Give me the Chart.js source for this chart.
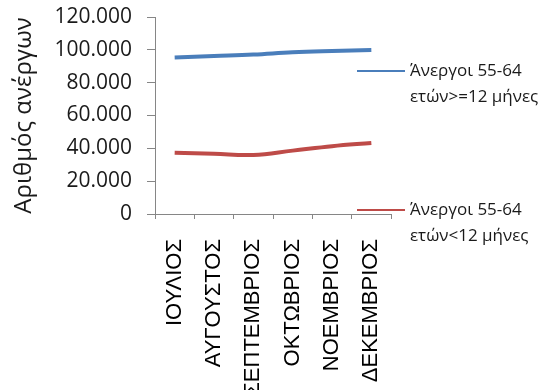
<!DOCTYPE html>
<html>
<head>
<meta charset="utf-8">
<script src="https://cdn.jsdelivr.net/npm/chart.js@4/dist/chart.umd.min.js"></script>
<style>
  html, body { margin: 0; padding: 0; background: #fff; }
</style>
</head>
<body>
<canvas id="chart" width="550" height="390"></canvas>
<script>
const months = ['ΙΟΥΛΙΟΣ', 'ΑΥΓΟΥΣΤΟΣ', 'ΣΕΠΤΕΜΒΡΙΟΣ', 'ΟΚΤΩΒΡΙΟΣ', 'ΝΟΕΜΒΡΙΟΣ', 'ΔΕΚΕΜΒΡΙΟΣ']
const longTerm = [95300, 96200, 97100, 98500, 99300, 99900]
const shortTerm = [37300, 36700, 36000, 38600, 41300, 43300]
const seriesNames = [['Άνεργοι 55-64', 'ετών>=12 μήνες'], ['Άνεργοι 55-64', 'ετών<12 μήνες']]
const yTitle = 'Αριθμός ανέργων'

const BLUE = '#4a7ebb'
const RED = '#be4b48'
const AXIS = '#868686'
const CALIBRI = "'Open Sans', 'Noto Sans', sans-serif"

function fmt(v) {
  return String(v).replace(/\B(?=(\d{3})+(?!\d))/g, '.')
}

// legend drawn by hand, Excel puts the two entries far apart on the right
const sideLegend = {
  id: 'sideLegend',
  afterDraw(chart) {
    const ctx = chart.ctx
    const spots = [71, 210]
    const colors = [BLUE, RED]
    ctx.save()
    ctx.font = '17px ' + CALIBRI
    ctx.textBaseline = 'middle'
    ctx.fillStyle = '#1a1a1a'
    seriesNames.forEach((lines, i) => {
      const y = spots[i]
      ctx.strokeStyle = colors[i]
      ctx.lineWidth = 2
      ctx.beginPath()
      ctx.moveTo(357, y)
      ctx.lineTo(405, y)
      ctx.stroke()
      lines.forEach((t, j) => ctx.fillText(t, 410, y + j * 26))
    })
    ctx.restore()
  }
}

new Chart(document.getElementById('chart'), {
  type: 'line',
  data: {
    labels: months,
    datasets: [{
      label: seriesNames[0].join(' '),
      data: longTerm,
      borderColor: BLUE,
      borderWidth: 4,
      tension: 0.4,
      pointRadius: 0,
      fill: false
    }, {
      label: seriesNames[1].join(' '),
      data: shortTerm,
      borderColor: RED,
      borderWidth: 4,
      tension: 0.4,
      pointRadius: 0,
      fill: false
    }]
  },
  options: {
    responsive: false,
    animation: false,
    layout: { padding: { top: 17, right: 159, bottom: 0, left: 0 } },
    plugins: {
      legend: { display: false },
      tooltip: { enabled: false }
    },
    scales: {
      x: {
        offset: true,
        grid: { offset: true, drawOnChartArea: false, tickLength: 5, color: AXIS },
        border: { color: AXIS },
        ticks: {
          autoSkip: false,
          minRotation: 90,
          maxRotation: 90,
          padding: 20,
          color: '#000',
          font: { family: "'Liberation Sans', Arial, sans-serif", size: 22 }
        },
        afterFit(scale) { scale.height = 176 }
      },
      y: {
        min: 0,
        max: 120000,
        ticks: {
          stepSize: 20000,
          padding: 15,
          color: '#1a1a1a',
          font: { family: CALIBRI, size: 21 },
          callback: v => fmt(v)
        },
        grid: { drawOnChartArea: false, tickLength: 8, color: AXIS },
        border: { color: AXIS },
        title: {
          display: true,
          text: yTitle,
          color: '#1a1a1a',
          padding: { top: 10, bottom: 0 },
          font: { family: CALIBRI, size: 24 }
        },
        afterFit(scale) {
          scale.width = 155
          scale.paddingTop = 0
          scale.paddingBottom = 0
        }
      }
    }
  },
  plugins: [sideLegend]
})
</script>
</body>
</html>
